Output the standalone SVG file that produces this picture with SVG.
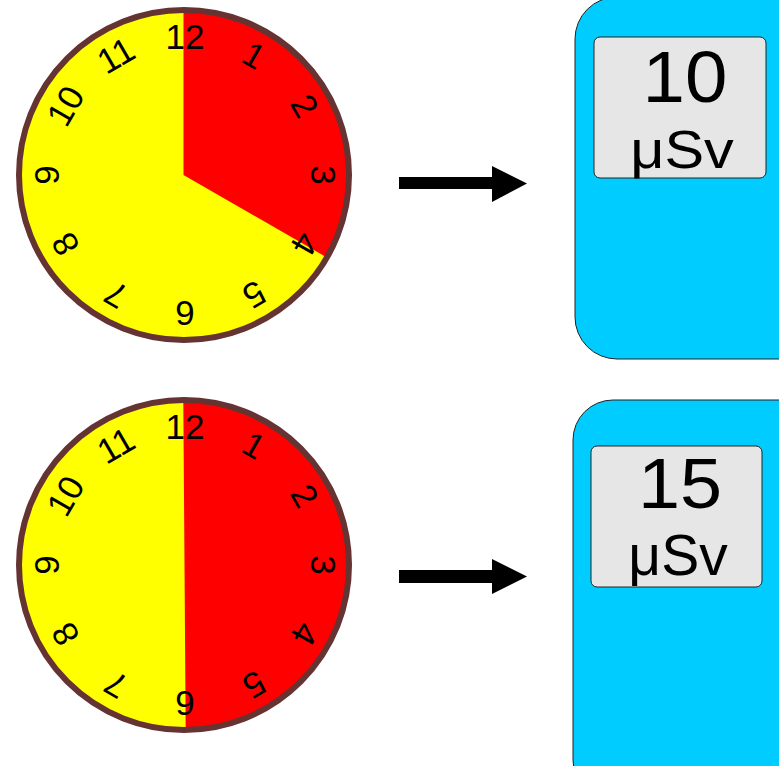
<svg xmlns="http://www.w3.org/2000/svg" width="779" height="766" viewBox="0 0 779 766">
<style>
.face{fill:#ffff00;stroke:none}
.red{fill:#ff0000;stroke:none}
.rim{fill:none;stroke:#663333;stroke-width:6}
.num{font-family:"Liberation Sans",Arial,sans-serif;font-size:35px;fill:#000;text-anchor:middle}
.body{fill:#00ccff;stroke:#222;stroke-width:1}
.disp{fill:#e6e6e6;stroke:#222;stroke-width:1}
.big{font-family:"Liberation Sans",Arial,sans-serif;fill:#000;text-anchor:middle}
.arrow{fill:#000;stroke:none}
</style>
<rect width="779" height="766" fill="#ffffff"/>
<g id="clock1">
<circle class="face" cx="184" cy="175" r="165"/>
<path class="red" d="M183.5,175 L183.5,10 A165,165 0 0 1 326.9,257.5 Z"/>
<circle class="rim" cx="184" cy="175" r="165"/>
<text class="num" x="185" y="49">12</text>
<text class="num" x="185" y="49" transform="rotate(30 185 175)">1</text>
<text class="num" x="185" y="49" transform="rotate(60 185 175)">2</text>
<text class="num" x="185" y="49" transform="rotate(90 185 175)">3</text>
<text class="num" x="185" y="49" transform="rotate(120 185 175)">4</text>
<text class="num" x="185" y="49" transform="rotate(150 185 175)">5</text>
<text class="num" x="185" y="49" transform="rotate(180 185 175)">6</text>
<text class="num" x="185" y="49" transform="rotate(210 185 175)">7</text>
<text class="num" x="185" y="49" transform="rotate(240 185 175)">8</text>
<text class="num" x="185" y="49" transform="rotate(270 185 175)">9</text>
<text class="num" x="185" y="49" transform="rotate(300 185 175)">10</text>
<text class="num" x="185" y="49" transform="rotate(330 185 175)">11</text>
</g>
<g id="clock2">
<circle class="face" cx="184" cy="565" r="165"/>
<path class="red" d="M183.3,400 A165,165 0 0 1 185.7,730 Z"/>
<circle class="rim" cx="184" cy="565" r="165"/>
<text class="num" x="185" y="439">12</text>
<text class="num" x="185" y="439" transform="rotate(30 185 565)">1</text>
<text class="num" x="185" y="439" transform="rotate(60 185 565)">2</text>
<text class="num" x="185" y="439" transform="rotate(90 185 565)">3</text>
<text class="num" x="185" y="439" transform="rotate(120 185 565)">4</text>
<text class="num" x="185" y="439" transform="rotate(150 185 565)">5</text>
<text class="num" x="185" y="439" transform="rotate(180 185 565)">6</text>
<text class="num" x="185" y="439" transform="rotate(210 185 565)">7</text>
<text class="num" x="185" y="439" transform="rotate(240 185 565)">8</text>
<text class="num" x="185" y="439" transform="rotate(270 185 565)">9</text>
<text class="num" x="185" y="439" transform="rotate(300 185 565)">10</text>
<text class="num" x="185" y="439" transform="rotate(330 185 565)">11</text>
</g>
<g id="device1">
<rect class="body" x="575" y="-3" width="250" height="362" rx="42" ry="42"/>
<rect class="disp" x="594" y="37" width="172" height="141" rx="6" ry="6"/>
<text class="big" font-size="72" transform="translate(685,102) scale(1.06,1)">10</text>
<text class="big" font-size="54" transform="translate(682,168) scale(1.1,1)">μSv</text>
</g>
<g id="device2">
<rect class="body" x="573" y="400" width="250" height="400" rx="40" ry="40"/>
<rect class="disp" x="591" y="446" width="171" height="141" rx="6" ry="6"/>
<text class="big" font-size="70" transform="translate(680,508) scale(1.08,1)">15</text>
<text class="big" font-size="57" transform="translate(678,575) scale(1.0,1)">μSv</text>
</g>
<g id="connectors">
<polygon class="arrow" points="399,177 492,177 492,166 527,183.5 492,202 492,189 399,189"/>
<polygon class="arrow" points="399,570 492,570 492,559 527,576.5 492,594 492,583 399,583"/>
</g>
</svg>
